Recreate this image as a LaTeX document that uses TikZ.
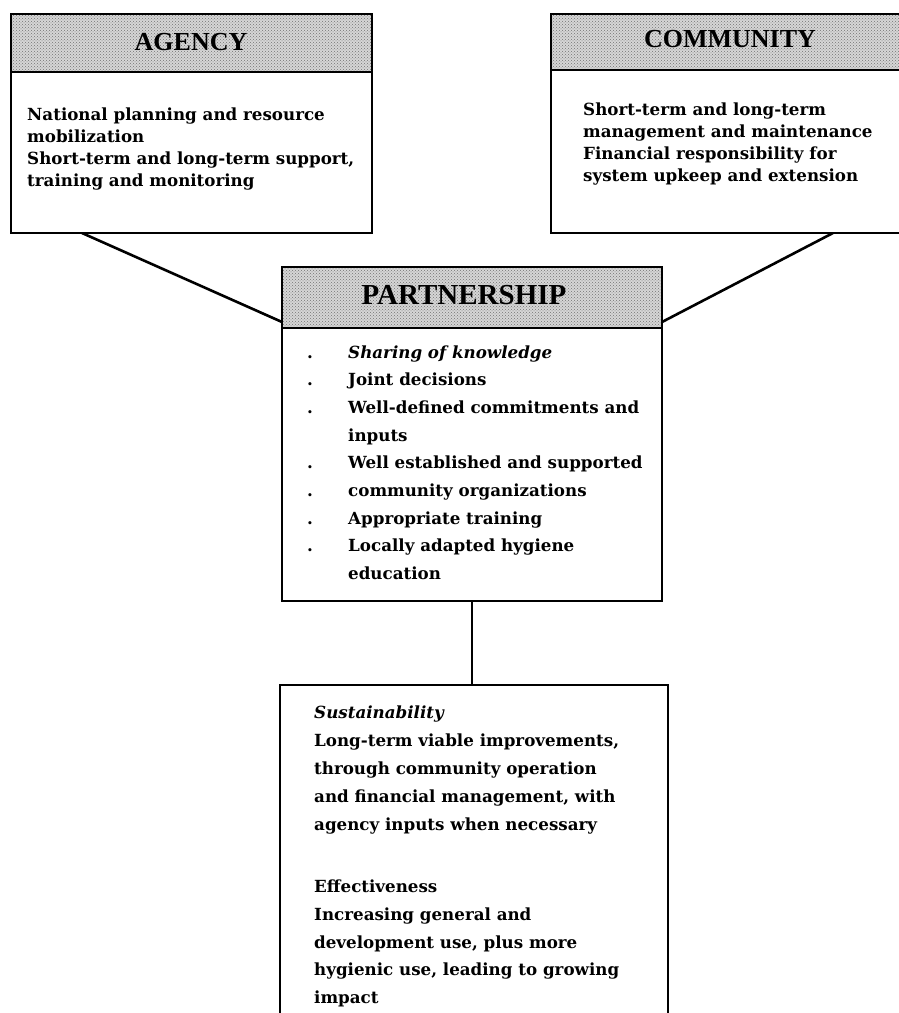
\documentclass[tikz,border=0pt]{standalone}
\usepackage{fontspec}
\setmainfont{DejaVu Serif}
\newfontfamily\headfont{Liberation Serif}
\usetikzlibrary{patterns}

\begin{document}
\begin{tikzpicture}[x=1pt,y=-1pt,
  frame/.style={draw=black,line width=1.7pt},
  bandfill/.style={fill=black!16},
  banddots/.style={pattern=crosshatch dots,pattern color=black!55},
  link/.style={draw=black,line width=2.6pt},
  title/.style={font=\headfont\bfseries\fontsize{26}{26}\selectfont,inner sep=0pt,anchor=base},
  body/.style={font=\bfseries\fontsize{16.7}{22}\selectfont,inner sep=0pt,anchor=base west},
  bodyit/.style={body,font=\bfseries\itshape\fontsize{16.7}{22}\selectfont},
  bullet/.style={body},
]
\useasboundingbox (0,0) rectangle (899,1013);
\clip (0,0) rectangle (899,1013);

% ---------- box corners ----------
\coordinate (agTL) at (11,14);   \coordinate (agBR) at (372,233); \coordinate (agBand) at (372,72);
\coordinate (coTL) at (551,14);  \coordinate (coBR) at (915,233); \coordinate (coBand) at (915,70);
\coordinate (paTL) at (282,267); \coordinate (paBR) at (662,601); \coordinate (paBand) at (662,328);
\coordinate (suTL) at (280,685); \coordinate (suBR) at (668,1040);

% ---------- connectors ----------
\coordinate (agFoot) at (82,233);
\coordinate (coFoot) at (833,233);
\coordinate (paW) at (282,322);
\coordinate (paE) at (662,322);
\coordinate (paS) at (472,601);
\coordinate (suN) at (472,685);
\draw[link] (agFoot) -- (paW);
\draw[link] (coFoot) -- (paE);
\draw[link] (paS) -- (suN);

% ---------- AGENCY ----------
\fill[white] (agTL) rectangle (agBR);
\fill[bandfill] (agTL) rectangle (agBand);
\fill[banddots] (agTL) rectangle (agBand);
\draw[frame] (agTL) rectangle (agBand);
\draw[frame] (agTL) rectangle (agBR);
\node[title] (agT) at (191,50) {AGENCY};
\node[body] (ag1) at (27,120) {National planning and resource};
\node[body] (ag2) at (27,142) {mobilization};
\node[body] (ag3) at (27,164) {Short-term and long-term support,};
\node[body] (ag4) at (27,186) {training and monitoring};

% ---------- COMMUNITY ----------
\fill[white] (coTL) rectangle (coBR);
\fill[bandfill] (coTL) rectangle (coBand);
\fill[banddots] (coTL) rectangle (coBand);
\draw[frame] (coTL) rectangle (coBand);
\draw[frame] (coTL) rectangle (coBR);
\node[title] (coT) at (730,47) {COMMUNITY};
\node[body] (co1) at (583,115) {Short-term and long-term};
\node[body] (co2) at (583,137) {management and maintenance};
\node[body] (co3) at (583,159) {Financial responsibility for};
\node[body] (co4) at (583,181) {system upkeep and extension};

% ---------- PARTNERSHIP ----------
\fill[white] (paTL) rectangle (paBR);
\fill[bandfill] (paTL) rectangle (paBand);
\fill[banddots] (paTL) rectangle (paBand);
\draw[frame] (paTL) rectangle (paBand);
\draw[frame] (paTL) rectangle (paBR);
\node[title,font=\headfont\bfseries\fontsize{29}{29}\selectfont] (paT) at (464,304) {PARTNERSHIP};
\node[bullet] (pb1) at (307,358) {.};
\node[bullet] (pb2) at (307,385.7) {.};
\node[bullet] (pb3) at (307,413.4) {.};
\node[bullet] (pb5) at (307,468.8) {.};
\node[bullet] (pb6) at (307,496.5) {.};
\node[bullet] (pb7) at (307,524.2) {.};
\node[bullet] (pb8) at (307,551.9) {.};
\node[bodyit] (pa1) at (348,358) {Sharing of knowledge};
\node[body] (pa2) at (348,385.7) {Joint decisions};
\node[body] (pa3) at (348,413.4) {Well-defined commitments and};
\node[body] (pa4) at (348,441.1) {inputs};
\node[body] (pa5) at (348,468.8) {Well established and supported};
\node[body] (pa6) at (348,496.5) {community organizations};
\node[body] (pa7) at (348,524.2) {Appropriate training};
\node[body] (pa8) at (348,551.9) {Locally adapted hygiene};
\node[body] (pa9) at (348,579.6) {education};

% ---------- SUSTAINABILITY / EFFECTIVENESS ----------
\fill[white] (suTL) rectangle (suBR);
\draw[frame] (suTL) rectangle (suBR);
\node[bodyit] (su0) at (314,718) {Sustainability};
\node[body] (su1) at (314,746) {Long-term viable improvements,};
\node[body] (su2) at (314,774) {through community operation};
\node[body] (su3) at (314,802) {and financial management, with};
\node[body] (su4) at (314,830) {agency inputs when necessary};
\node[body] (ef0) at (314,892) {Effectiveness};
\node[body] (ef1) at (314,920) {Increasing general and};
\node[body] (ef2) at (314,948) {development use, plus more};
\node[body] (ef3) at (314,975) {hygienic use, leading to growing};
\node[body] (ef4) at (314,1003) {impact};
\end{tikzpicture}
\end{document}
